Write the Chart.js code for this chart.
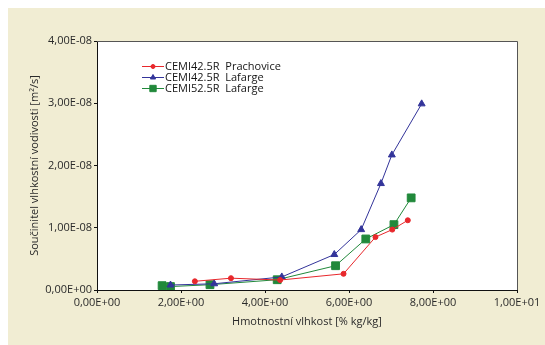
<!DOCTYPE html>
<html>
<head>
<meta charset="utf-8">
<script src="https://cdn.jsdelivr.net/npm/chart.js@4/dist/chart.umd.min.js"></script>
<style>
  html, body { margin: 0; padding: 0; background: #ffffff; }
  #wrap { width: 545px; height: 345px; }
</style>
</head>
<body>
<div id="wrap"><canvas id="chart-1" width="545" height="345"></canvas></div>
<script>
// series labels
const seriesNames = ['CEMI42.5R  Prachovice', 'CEMI42.5R  Lafarge', 'CEMI52.5R  Lafarge'];

// moisture content [% kg/kg]
const prachoviceX = [2.33, 3.19, 4.36, 5.87, 6.63, 7.03, 7.40];
const lafarge425X = [1.75, 2.79, 4.40, 5.65, 6.29, 6.76, 7.02, 7.73];
const lafarge525X = [1.55, 1.75, 2.69, 4.29, 5.68, 6.40, 7.07, 7.48];

// moisture diffusivity [m2/s]
const prachoviceY = [0.14e-8, 0.19e-8, 0.16e-8, 0.26e-8, 0.85e-8, 0.97e-8, 1.12e-8];
const lafarge425Y = [0.08e-8, 0.10e-8, 0.21e-8, 0.57e-8, 0.97e-8, 1.71e-8, 2.17e-8, 2.99e-8];
const lafarge525Y = [0.07e-8, 0.055e-8, 0.085e-8, 0.165e-8, 0.39e-8, 0.82e-8, 1.05e-8, 1.48e-8];

const xTicks = [0, 2, 4, 6, 8, 10];
const yTicks = [0, 1e-8, 2e-8, 3e-8, 4e-8];

function toPoints(xs, ys) {
  return xs.map((x, i) => ({ x: x, y: ys[i] }));
}

function sci(v) {
  if (Math.abs(v) < 1e-20) return '0,00E+00';
  let s = v.toExponential(2);
  let parts = s.split('e');
  let exp = Number(parts[1]);
  let sign = exp < 0 ? '-' : '+';
  let e = String(Math.abs(exp)).padStart(2, '0');
  return parts[0].replace('.', ',') + 'E' + sign + e;
}

const textColor = '#2a2a2a';
const fontFamily = "'Open Sans', 'DejaVu Sans', sans-serif";

const background = {
  id: 'background',
  beforeDraw(chart) {
    const ctx = chart.ctx;
    const a = chart.chartArea;
    ctx.save();
    ctx.fillStyle = '#f1edd3';
    ctx.fillRect(8, 8, chart.width - 8, chart.height - 8);
    ctx.fillStyle = '#ffffff';
    ctx.fillRect(a.left, a.top, a.right - a.left, a.bottom - a.top);
    ctx.restore();
  },
  afterDraw(chart) {
    const ctx = chart.ctx;
    const a = chart.chartArea;
    ctx.save();
    ctx.strokeStyle = '#555555';
    ctx.lineWidth = 1;
    ctx.beginPath();
    ctx.moveTo(a.left, a.top + 0.5);
    ctx.lineTo(a.right + 0.5, a.top + 0.5);
    ctx.lineTo(a.right + 0.5, a.bottom);
    ctx.stroke();
    ctx.restore();
  }
};

const innerLegend = {
  id: 'innerLegend',
  afterDatasetsDraw(chart) {
    const ctx = chart.ctx;
    const x0 = 142, x1 = 164, top = 66.5, step = 11;
    ctx.save();
    chart.data.datasets.forEach((ds, i) => {
      const y = top + i * step;
      ctx.strokeStyle = ds.borderColor;
      ctx.lineWidth = 1;
      ctx.beginPath();
      ctx.moveTo(x0, y);
      ctx.lineTo(x1, y);
      ctx.stroke();
      ctx.fillStyle = ds.backgroundColor;
      ctx.strokeStyle = ds.borderColor;
      Chart.helpers.drawPoint(ctx, {
        pointStyle: ds.pointStyle,
        radius: ds.legendRadius,
        rotation: 0,
        borderWidth: 1
      }, (x0 + x1) / 2, y);
      ctx.fillStyle = '#141414';
      ctx.font = "500 11px " + fontFamily;
      ctx.textBaseline = 'middle';
      ctx.textAlign = 'left';
      ctx.fillText(ds.label, x1 + 1, y);
    });
    ctx.restore();
  }
};

const data = {
  datasets: [
    {
      label: seriesNames[0],
      data: toPoints(prachoviceX, prachoviceY),
      borderColor: '#e8282c',
      backgroundColor: '#e8282c',
      pointStyle: 'circle',
      pointRadius: 2.5,
      legendRadius: 2,
      borderWidth: 1
    },
    {
      label: seriesNames[1],
      data: toPoints(lafarge425X, lafarge425Y),
      borderColor: '#33349a',
      backgroundColor: '#33349a',
      pointStyle: 'triangle',
      pointRadius: 4,
      legendRadius: 3,
      borderWidth: 1
    },
    {
      label: seriesNames[2],
      data: toPoints(lafarge525X, lafarge525Y),
      borderColor: '#21893b',
      backgroundColor: '#21893b',
      pointStyle: 'rect',
      pointRadius: 5.5,
      legendRadius: 4.5,
      borderWidth: 1
    }
  ]
};

const config = {
  type: 'line',
  data,
  options: {
    responsive: false,
    animation: false,
    devicePixelRatio: 1,
    layout: { padding: { left: 0, top: 41, right: 28, bottom: 0 } },
    plugins: {
      legend: { display: false },
      tooltip: { enabled: false }
    },
    elements: { line: { tension: 0 } },
    scales: {
      x: {
        type: 'linear',
        min: 0,
        max: 10,
        afterFit(scale) { scale.height = 55; },
        afterBuildTicks(scale) { scale.ticks = xTicks.map(v => ({ value: v })); },
        border: { color: '#111111', width: 1 },
        grid: { drawOnChartArea: false, drawTicks: true, tickLength: 3, color: '#111111' },
        ticks: {
          callback: v => sci(v),
          maxRotation: 0,
          autoSkip: false,
          padding: 3,
          color: textColor,
          font: { family: fontFamily, size: 11 }
        },
        title: {
          display: true,
          text: 'Hmotnostní vlhkost [% kg/kg]',
          color: textColor,
          padding: { top: 0, bottom: 17 },
          font: { family: fontFamily, size: 11 }
        }
      },
      y: {
        type: 'linear',
        min: 0,
        max: 4e-8,
        afterFit(scale) { scale.width = 97; },
        afterBuildTicks(scale) { scale.ticks = yTicks.map(v => ({ value: v })); },
        border: { color: '#111111', width: 1 },
        grid: { drawOnChartArea: false, drawTicks: true, tickLength: 3, color: '#111111' },
        ticks: {
          callback: v => sci(v),
          autoSkip: false,
          padding: 2,
          color: textColor,
          font: { family: fontFamily, size: 11 }
        },
        title: {
          display: true,
          text: 'Součinitel vlhkostní vodivosti [m²/s]',
          color: textColor,
          padding: { top: 28, bottom: 0 },
          font: { family: fontFamily, size: 11 }
        }
      }
    }
  },
  plugins: [background, innerLegend]
};

let chart1 = new Chart(document.getElementById('chart-1'), config);
</script>
</body>
</html>
